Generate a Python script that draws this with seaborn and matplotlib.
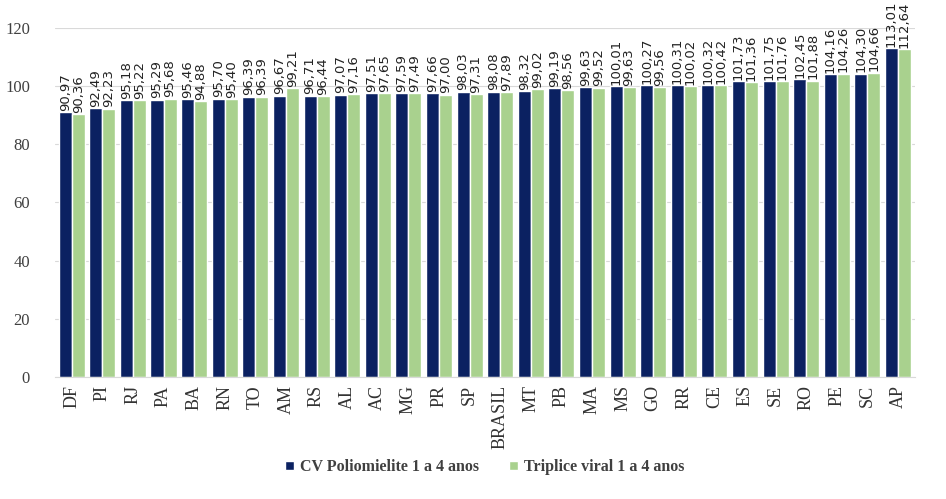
import pandas as pd
import numpy as np
import matplotlib.pyplot as plt
import seaborn as sns

UFS = ["DF", "PI", "RJ", "PA", "BA", "RN", "TO", "AM", "RS", "AL", "AC", "MG", "PR", "SP",
       "BRASIL", "MT", "PB", "MA", "MS", "GO", "RR", "CE", "ES", "SE", "RO", "PE", "SC", "AP"]
POLIO = [90.97, 92.49, 95.18, 95.29, 95.46, 95.70, 96.39, 96.67, 96.71, 97.07, 97.51, 97.59, 97.66, 98.03,
         98.08, 98.32, 99.19, 99.63, 100.01, 100.27, 100.31, 100.32, 101.73, 101.75, 102.45, 104.16, 104.30, 113.01]
TRIPLICE = [90.36, 92.23, 95.22, 95.68, 94.88, 95.40, 96.39, 99.21, 96.44, 97.16, 97.65, 97.49, 97.00, 97.31,
            97.89, 99.02, 98.56, 99.52, 99.63, 99.56, 100.02, 100.42, 101.36, 101.76, 101.88, 104.26, 104.66, 112.64]
SERIES = ["CV Poliomielite 1 a 4 anos", "Triplice viral 1 a 4 anos"]
COLORS = ["#0B2161", "#A9D18E"]

df = pd.DataFrame({
    "uf": UFS * 2,
    "valor": POLIO + TRIPLICE,
    "serie": [SERIES[0]] * len(UFS) + [SERIES[1]] * len(UFS),
})

sns.set_style("white")
fig = plt.figure(figsize=(9.46, 4.99), dpi=100)
ax = fig.add_axes([0.058, 0.2445, 0.909, 0.6995])

sns.barplot(data=df, x="uf", y="valor", hue="serie", palette=COLORS,
            width=0.85, gap=0, ax=ax, legend=True, errorbar=None, saturation=1)

for cont in ax.containers:
    labels = [f"{v:.2f}".replace(".", ",") for v in cont.datavalues]
    ax.bar_label(cont, labels=labels, rotation=90, padding=1, fontsize=9.5,
                 family="DejaVu Sans", color="#222222", clip_on=False)

ax.set_ylim(0, 120)
ax.set_yticks(np.arange(0, 121, 20))
ax.set_xlim(-0.55, len(UFS) - 0.45)
ax.yaxis.grid(True, color="#D9D9D9", linewidth=0.8)
ax.set_axisbelow(True)
ax.set_xlabel("")
ax.set_ylabel("")
for s in ["left", "right", "top"]:
    ax.spines[s].set_visible(False)
ax.spines["bottom"].set_color("#D9D9D9")
ax.tick_params(axis="x", length=0, pad=6)
ax.tick_params(axis="y", length=0, pad=18)
for t in ax.get_xticklabels():
    t.set_rotation(90)
    t.set_family("Liberation Serif")
    t.set_fontsize(13)
    t.set_color("#333333")
for t in ax.get_yticklabels():
    t.set_family("Liberation Serif")
    t.set_fontsize(12)
    t.set_color("#404040")

ax.legend(loc="center", bbox_to_anchor=(0.5, -0.258), ncol=2, frameon=False, borderaxespad=0,
          handlelength=0.55, handleheight=0.55, columnspacing=1.9, handletextpad=0.4,
          prop={"family": "Liberation Serif", "weight": "bold", "size": 11.5},
          labelcolor="#404040")

plt.savefig("out.png", dpi=100)
